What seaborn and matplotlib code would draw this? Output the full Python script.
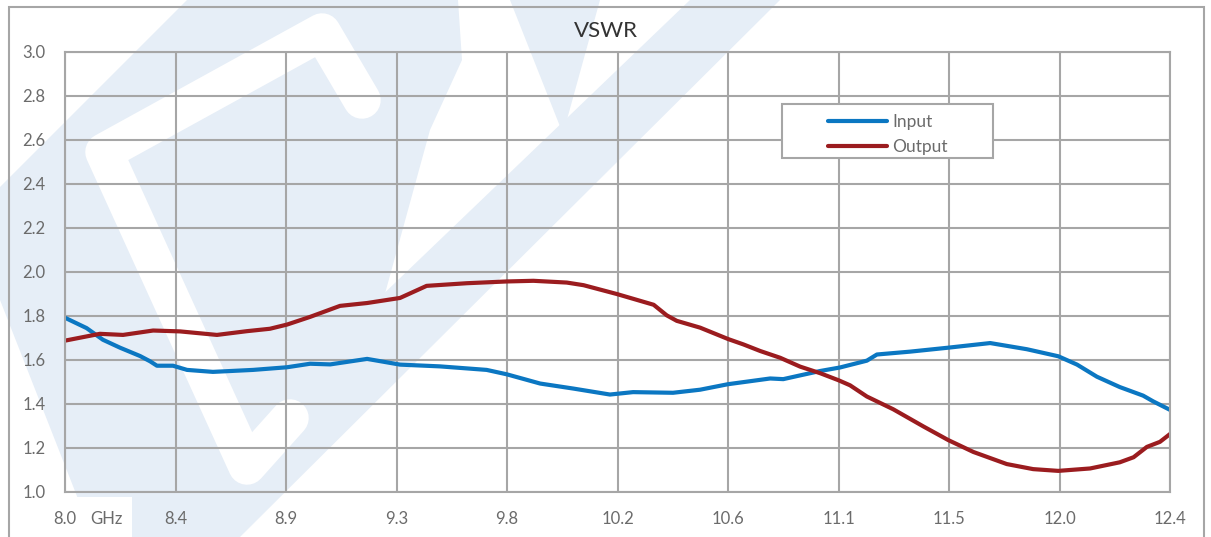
import matplotlib
matplotlib.use("Agg")
import matplotlib.pyplot as plt
import seaborn as sns
import numpy as np
import pandas as pd
from matplotlib.patches import Polygon, Rectangle
from matplotlib.lines import Line2D

# === Data ===
input_freq = [8.00, 8.086, 8.151, 8.219, 8.299, 8.339, 8.366, 8.43, 8.486, 8.589,
              8.749, 8.884, 8.976, 9.056, 9.203, 9.334, 9.493, 9.679, 9.759, 9.892,
              10.025, 10.17, 10.262, 10.421, 10.529, 10.64, 10.808, 10.86, 10.927, 11.007,
              11.086, 11.193, 11.233, 11.365, 11.517, 11.684, 11.83, 11.955, 12.03, 12.109,
              12.2, 12.293, 12.333, 12.404]
input_vswr = [1.792, 1.745, 1.692, 1.656, 1.618, 1.594, 1.574, 1.574, 1.555, 1.546,
              1.555, 1.567, 1.583, 1.580, 1.605, 1.579, 1.571, 1.555, 1.535, 1.493,
              1.470, 1.443, 1.454, 1.451, 1.465, 1.490, 1.516, 1.513, 1.530, 1.550,
              1.566, 1.597, 1.625, 1.638, 1.656, 1.677, 1.649, 1.617, 1.579, 1.524,
              1.477, 1.438, 1.412, 1.371]

output_freq = [8.00, 8.139, 8.231, 8.351, 8.458, 8.605, 8.724, 8.816, 8.884, 8.976,
               9.095, 9.203, 9.334, 9.44, 9.60, 9.759, 9.865, 9.998, 10.065, 10.197,
               10.344, 10.396, 10.436, 10.529, 10.641, 10.701, 10.768, 10.848, 10.927, 11.007,
               11.08, 11.126, 11.193, 11.298, 11.418, 11.517, 11.617, 11.75, 11.855, 11.955,
               12.082, 12.2, 12.255, 12.308, 12.36, 12.404]
output_vswr = [1.688, 1.719, 1.714, 1.734, 1.730, 1.714, 1.731, 1.742, 1.761, 1.796,
               1.846, 1.859, 1.882, 1.937, 1.949, 1.957, 1.960, 1.952, 1.940, 1.900,
               1.851, 1.803, 1.778, 1.747, 1.695, 1.671, 1.641, 1.610, 1.570, 1.540,
               1.508, 1.485, 1.434, 1.376, 1.298, 1.236, 1.182, 1.127, 1.104, 1.096,
               1.107, 1.135, 1.158, 1.205, 1.228, 1.267]

x_ticks = [8.0, 8.44, 8.88, 9.32, 9.76, 10.2, 10.64, 11.08, 11.52, 11.96, 12.4]
x_tick_labels = ["8.0", "8.4", "8.9", "9.3", "9.8", "10.2", "10.6", "11.1", "11.5", "12.0", "12.4"]
y_ticks = [1.0, 1.2, 1.4, 1.6, 1.8, 2.0, 2.2, 2.4, 2.6, 2.8, 3.0]

df = pd.concat([
    pd.DataFrame({"freq": input_freq, "vswr": input_vswr, "series": "Input"}),
    pd.DataFrame({"freq": output_freq, "vswr": output_vswr, "series": "Output"}),
])
palette = {"Input": "#0B77C2", "Output": "#9B1C1F"}

# === Style ===
sns.set_style("white")
plt.rcParams["font.family"] = ["Lato", "DejaVu Sans"]

W, H = 1211, 537
fig = plt.figure(figsize=(W / 100, H / 100), dpi=100)
fig.patch.set_facecolor("white")


def px(x, y):
    return (x / W, 1 - y / H)


# faint logo watermark behind everything
wm = "#E6EEF7"
shapes = [
    [(187, 0), (458, 0), (462, 60), (430, 130), (375, 330), (260, 470), (167, 537),
     (93, 537), (0, 300), (0, 187)],
    [(690, 0), (780, 0), (240, 537), (130, 537)],
    [(510, 0), (600, 0), (563, 134)],
]
for pts in shapes:
    fig.add_artist(Polygon([px(*p) for p in pts], closed=True, transform=fig.transFigure,
                           facecolor=wm, edgecolor="none", zorder=-5))
gap = [(362, 100), (322, 32), (104, 152), (247, 466), (290, 418)]
fig.add_artist(Line2D([px(*p)[0] for p in gap], [px(*p)[1] for p in gap],
                      transform=fig.transFigure, color="white", lw=27,
                      solid_joinstyle="round", solid_capstyle="round", zorder=-4.5))
fig.add_artist(Rectangle(px(10, 537), 122 / W, 40 / H, transform=fig.transFigure,
                         facecolor="white", edgecolor="none", zorder=-4))
# outer chart border
fig.add_artist(Rectangle(px(9, 545), (1204 - 9) / W, (545 - 7) / H, transform=fig.transFigure,
                         facecolor="none", edgecolor="#A6A6A6", lw=1.5, zorder=-3))

ax = fig.add_axes([65 / W, (H - 492) / H, (1170 - 65) / W, (492 - 52) / H])
ax.set_facecolor("none")

sns.lineplot(data=df, x="freq", y="vswr", hue="series", palette=palette,
             linewidth=3.0, ax=ax, estimator=None, sort=False)

ax.set_xlim(8.0, 12.4)
ax.set_ylim(1.0, 3.0)
ax.set_xticks(x_ticks)
ax.set_xticklabels(x_tick_labels)
ax.set_yticks(y_ticks)
ax.set_yticklabels([f"{v:.1f}" for v in y_ticks])
ax.set_xlabel("")
ax.set_ylabel("")
ax.grid(True, color="#A6A6A6", linewidth=1.5)
ax.set_axisbelow(True)
for s in ax.spines.values():
    s.set_color("#A6A6A6")
    s.set_linewidth(1.5)
ax.tick_params(axis="both", length=0, labelsize=12, colors="#6B6B6B")
ax.tick_params(axis="y", pad=14)
ax.tick_params(axis="x", pad=14)
ax.annotate("GHz", xy=(8.0, 0), xycoords=("data", "axes fraction"),
            xytext=(18, -14), textcoords="offset points", ha="left", va="top",
            fontsize=12, color="#6B6B6B")

fig.text(606 / W, 1 - 31 / H, "VSWR", ha="center", va="center", fontsize=16, color="#333333")

# legend: framed box plus entries
ax.add_patch(Rectangle(((782 - 65) / 1105, (492 - 158) / 440), 211 / 1105, 54 / 440,
                       transform=ax.transAxes, facecolor="white", edgecolor="#A6A6A6",
                       lw=1.5, zorder=4))
handles, labels = ax.get_legend_handles_labels()
leg = ax.legend(handles, labels, loc="center left", bbox_to_anchor=((828 - 65) / 1105, 0.8125),
                frameon=False, borderpad=0, borderaxespad=0, handlelength=3.4,
                handletextpad=0.3, labelspacing=0.55, fontsize=12.5, labelcolor="#6B6B6B")
leg.set_zorder(5)

fig.savefig("out.png", dpi=100)
